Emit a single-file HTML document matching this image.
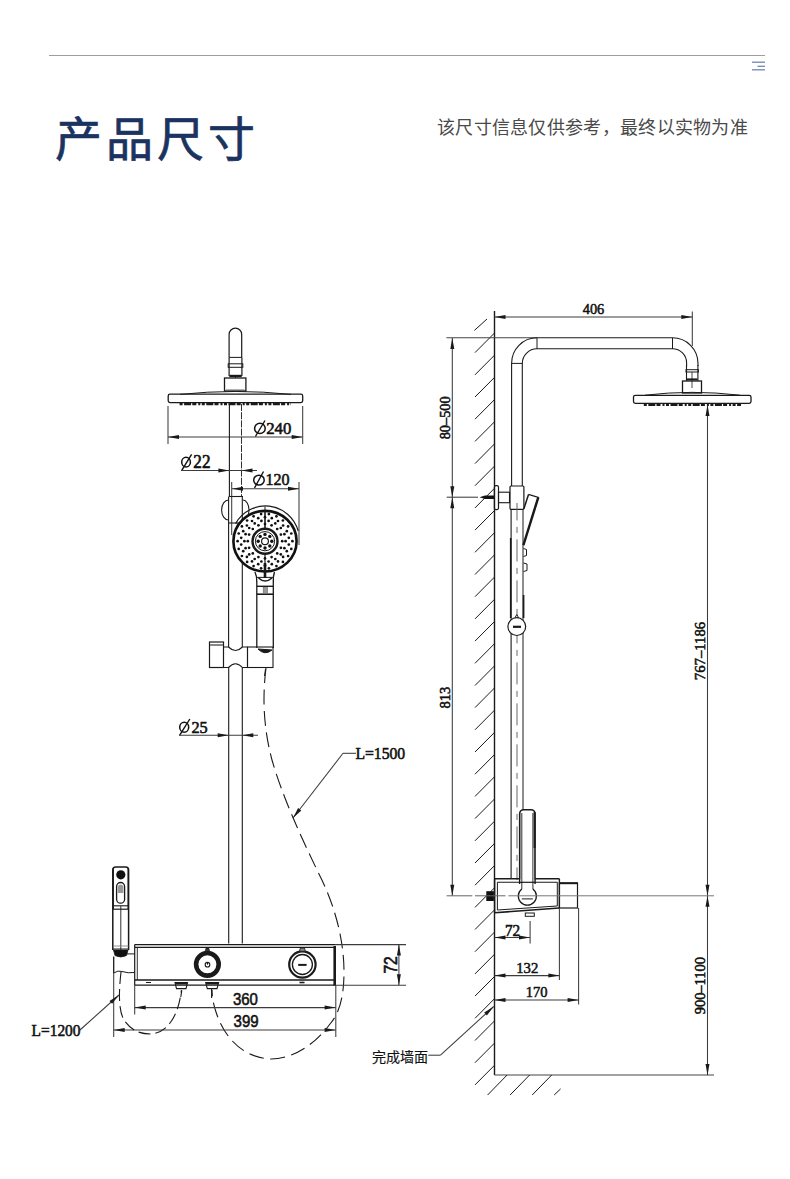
<!DOCTYPE html>
<html lang="zh-CN"><head><meta charset="utf-8"><style>
html,body{margin:0;padding:0;background:#fff;width:790px;height:1179px;overflow:hidden}
.t{position:absolute;font-family:"Liberation Sans",sans-serif;white-space:nowrap}
</style></head><body>
<div style="position:absolute;left:49px;top:54.5px;width:716px;height:1.5px;background:#9d9d9d"></div>
<svg style="position:absolute;left:0;top:0" width="790" height="1179" viewBox="0 0 790 1179">
<line x1="752" y1="62.2" x2="765" y2="62.2" stroke="#7386ad" stroke-width="1.3"/>
<line x1="757.5" y1="66.3" x2="765" y2="66.3" stroke="#7386ad" stroke-width="1.3"/>
<line x1="752" y1="69.8" x2="765" y2="69.8" stroke="#7386ad" stroke-width="1.3"/>
<path d="M229.1 357.4 L229.1 334.5 A6.3 6.3 0 0 1 241.7 334.5 L241.7 357.4" fill="none" stroke="#1a1a1a" stroke-width="1.2" />
<line x1="229.1" y1="357.4" x2="229.1" y2="376.0" stroke="#1a1a1a" stroke-width="1.2" />
<line x1="241.9" y1="357.4" x2="241.9" y2="376.0" stroke="#1a1a1a" stroke-width="1.2" />
<line x1="229.1" y1="357.4" x2="241.9" y2="357.4" stroke="#1a1a1a" stroke-width="1.0" />
<rect x="228.2" y="363.8" width="14.6" height="3.5" rx="0" fill="none" stroke="#1a1a1a" stroke-width="1.0"/>
<line x1="229.3" y1="376.0" x2="241.7" y2="376.0" stroke="#1a1a1a" stroke-width="2.4" />
<line x1="235.5" y1="376.0" x2="235.5" y2="378.0" stroke="#1a1a1a" stroke-width="1.0" />
<rect x="224.5" y="378.0" width="21.4" height="13.0" rx="0" fill="none" stroke="#1a1a1a" stroke-width="1.3"/>
<line x1="226.0" y1="390.3" x2="244.5" y2="390.3" stroke="#666" stroke-width="1.6" />
<path d="M180 394.4 Q235.5 388.5 291 394.4" fill="none" stroke="#1a1a1a" stroke-width="1.0" />
<rect x="168.2" y="394.2" width="134.5" height="8.4" rx="1.8" fill="none" stroke="#1a1a1a" stroke-width="1.3"/>
<line x1="179.6" y1="403.8" x2="291.0" y2="403.8" stroke="#1a1a1a" stroke-width="3.0" stroke-dasharray="3 1.5 7 1.2 4 2 2 1.5"/>
<line x1="168.0" y1="406.0" x2="168.0" y2="444.0" stroke="#3c3c3c" stroke-width="1.05" />
<line x1="302.7" y1="406.0" x2="302.7" y2="444.0" stroke="#3c3c3c" stroke-width="1.05" />
<line x1="168.0" y1="437.0" x2="302.7" y2="437.0" stroke="#3c3c3c" stroke-width="1.05" />
<path d="M168.0 437.0 L179.0 435.0 L179.0 439.0 Z" fill="#1a1a1a"/>
<path d="M302.7 437.0 L291.7 439.0 L291.7 435.0 Z" fill="#1a1a1a"/>
<ellipse cx="259.90" cy="428.40" rx="5.30" ry="5.20" fill="none" stroke="#111" stroke-width="1.5"/>
<line x1="255.4" y1="436.5" x2="265.0" y2="420.5" stroke="#111" stroke-width="1.4" />
<text transform="matrix(0.16761,0,0,0.17463,266.13,433.95)" font-family="Liberation Serif" font-size="100" fill="#111" stroke="#111" stroke-width="3.5">240</text>
<line x1="229.4" y1="404.0" x2="229.4" y2="497.0" stroke="#1a1a1a" stroke-width="1.1" />
<line x1="241.5" y1="404.0" x2="241.5" y2="497.0" stroke="#1a1a1a" stroke-width="0.9" stroke-dasharray="7 1.2"/>
<ellipse cx="186.05" cy="462.15" rx="4.35" ry="4.85" fill="none" stroke="#111" stroke-width="1.5"/>
<line x1="181.6" y1="470.6" x2="191.6" y2="454.4" stroke="#111" stroke-width="1.4" />
<text transform="matrix(0.17222,0,0,0.18000,193.31,468.00)" font-family="Liberation Serif" font-size="100" fill="#111" stroke="#111" stroke-width="3.5">22</text>
<line x1="181.0" y1="470.5" x2="257.0" y2="470.5" stroke="#3c3c3c" stroke-width="1.05" />
<path d="M229.4 470.5 L218.4 472.5 L218.4 468.5 Z" fill="#1a1a1a"/>
<path d="M241.5 470.5 L252.5 468.5 L252.5 472.5 Z" fill="#1a1a1a"/>
<ellipse cx="258.95" cy="480.15" rx="5.25" ry="4.95" fill="none" stroke="#111" stroke-width="1.5"/>
<line x1="254.5" y1="488.0" x2="263.5" y2="471.5" stroke="#111" stroke-width="1.4" />
<text transform="matrix(0.16058,0,0,0.17353,265.55,485.45)" font-family="Liberation Serif" font-size="100" fill="#111" stroke="#111" stroke-width="3.5">120</text>
<line x1="232.0" y1="488.7" x2="299.0" y2="488.7" stroke="#3c3c3c" stroke-width="1.05" />
<path d="M232.0 488.7 L243.0 486.7 L243.0 490.7 Z" fill="#1a1a1a"/>
<path d="M299.0 488.7 L288.0 490.7 L288.0 486.7 Z" fill="#1a1a1a"/>
<line x1="231.7" y1="482.0" x2="231.7" y2="535.0" stroke="#3c3c3c" stroke-width="1.05" />
<line x1="299.0" y1="482.0" x2="299.0" y2="545.0" stroke="#3c3c3c" stroke-width="1.05" />
<line x1="228.6" y1="497.0" x2="228.6" y2="647.0" stroke="#1a1a1a" stroke-width="1.1" />
<line x1="242.3" y1="497.0" x2="242.3" y2="647.0" stroke="#1a1a1a" stroke-width="1.1" />
<path d="M228.6 500 A7 10 0 0 0 228.6 520" fill="none" stroke="#1a1a1a" stroke-width="1.1" />
<path d="M243 500 A6 10 0 0 1 243 520" fill="none" stroke="#1a1a1a" stroke-width="1.1" />
<line x1="228.6" y1="496.5" x2="243.0" y2="496.5" stroke="#1a1a1a" stroke-width="1.1" />
<line x1="228.6" y1="523.0" x2="243.0" y2="523.0" stroke="#1a1a1a" stroke-width="1.1" />
<path d="M235.6 523.6 A34 34 0 0 1 298.2 531" fill="none" stroke="#1a1a1a" stroke-width="1.2" />
<line x1="265.0" y1="506.5" x2="265.0" y2="510.0" stroke="#1a1a1a" stroke-width="1.0" />
<ellipse cx="265" cy="541.2" rx="31.6" ry="30.3" fill="#fff" stroke="#111" stroke-width="2.6"/>
<line x1="265.0" y1="510.0" x2="265.0" y2="528.0" stroke="#1a1a1a" stroke-width="1.6" />
<line x1="265.0" y1="554.0" x2="265.0" y2="566.0" stroke="#1a1a1a" stroke-width="1.2" />
<line x1="265.0" y1="563.0" x2="265.0" y2="578.0" stroke="#1a1a1a" stroke-width="2.6" />
<circle cx="265.0" cy="541.2" r="12.5" fill="none" stroke="#1a1a1a" stroke-width="2.4"/>
<circle cx="265.0" cy="541.2" r="9.6" fill="none" stroke="#1a1a1a" stroke-width="1.0"/>
<circle cx="265.0" cy="541.2" r="3.4" fill="none" stroke="#1a1a1a" stroke-width="1.2"/>
<circle cx="271.8" cy="541.2" r="1.7" fill="#111"/>
<circle cx="269.8" cy="546.0" r="1.7" fill="#111"/>
<circle cx="265.0" cy="548.0" r="1.7" fill="#111"/>
<circle cx="260.2" cy="546.0" r="1.7" fill="#111"/>
<circle cx="258.2" cy="541.2" r="1.7" fill="#111"/>
<circle cx="260.2" cy="536.4" r="1.7" fill="#111"/>
<circle cx="265.0" cy="534.4" r="1.7" fill="#111"/>
<circle cx="269.8" cy="536.4" r="1.7" fill="#111"/>
<circle cx="268.9" cy="514.1" r="1.35" fill="#111"/>
<circle cx="276.4" cy="516.3" r="1.35" fill="#111"/>
<circle cx="282.9" cy="520.5" r="1.35" fill="#111"/>
<circle cx="288.1" cy="526.4" r="1.35" fill="#111"/>
<circle cx="291.3" cy="533.5" r="1.35" fill="#111"/>
<circle cx="292.4" cy="541.2" r="1.35" fill="#111"/>
<circle cx="291.3" cy="548.9" r="1.35" fill="#111"/>
<circle cx="288.1" cy="556.0" r="1.35" fill="#111"/>
<circle cx="282.9" cy="561.9" r="1.35" fill="#111"/>
<circle cx="276.4" cy="566.1" r="1.35" fill="#111"/>
<circle cx="268.9" cy="568.3" r="1.35" fill="#111"/>
<circle cx="261.1" cy="568.3" r="1.35" fill="#111"/>
<circle cx="253.6" cy="566.1" r="1.35" fill="#111"/>
<circle cx="247.1" cy="561.9" r="1.35" fill="#111"/>
<circle cx="241.9" cy="556.0" r="1.35" fill="#111"/>
<circle cx="238.7" cy="548.9" r="1.35" fill="#111"/>
<circle cx="237.6" cy="541.2" r="1.35" fill="#111"/>
<circle cx="238.7" cy="533.5" r="1.35" fill="#111"/>
<circle cx="241.9" cy="526.4" r="1.35" fill="#111"/>
<circle cx="247.1" cy="520.5" r="1.35" fill="#111"/>
<circle cx="253.6" cy="516.3" r="1.35" fill="#111"/>
<circle cx="261.1" cy="514.1" r="1.35" fill="#111"/>
<circle cx="265.0" cy="517.2" r="1.35" fill="#111"/>
<circle cx="271.8" cy="518.2" r="1.35" fill="#111"/>
<circle cx="278.0" cy="521.0" r="1.35" fill="#111"/>
<circle cx="283.1" cy="525.5" r="1.35" fill="#111"/>
<circle cx="286.8" cy="531.2" r="1.35" fill="#111"/>
<circle cx="288.8" cy="537.8" r="1.35" fill="#111"/>
<circle cx="288.8" cy="544.6" r="1.35" fill="#111"/>
<circle cx="286.8" cy="551.2" r="1.35" fill="#111"/>
<circle cx="283.1" cy="556.9" r="1.35" fill="#111"/>
<circle cx="278.0" cy="561.4" r="1.35" fill="#111"/>
<circle cx="271.8" cy="564.2" r="1.35" fill="#111"/>
<circle cx="265.0" cy="565.2" r="1.35" fill="#111"/>
<circle cx="258.2" cy="564.2" r="1.35" fill="#111"/>
<circle cx="252.0" cy="561.4" r="1.35" fill="#111"/>
<circle cx="246.9" cy="556.9" r="1.35" fill="#111"/>
<circle cx="243.2" cy="551.2" r="1.35" fill="#111"/>
<circle cx="241.2" cy="544.6" r="1.35" fill="#111"/>
<circle cx="241.2" cy="537.8" r="1.35" fill="#111"/>
<circle cx="243.2" cy="531.2" r="1.35" fill="#111"/>
<circle cx="246.9" cy="525.5" r="1.35" fill="#111"/>
<circle cx="252.0" cy="521.0" r="1.35" fill="#111"/>
<circle cx="258.2" cy="518.2" r="1.35" fill="#111"/>
<circle cx="268.6" cy="520.9" r="1.35" fill="#111"/>
<circle cx="275.3" cy="523.4" r="1.35" fill="#111"/>
<circle cx="280.8" cy="528.0" r="1.35" fill="#111"/>
<circle cx="284.4" cy="534.2" r="1.35" fill="#111"/>
<circle cx="285.6" cy="541.2" r="1.35" fill="#111"/>
<circle cx="284.4" cy="548.2" r="1.35" fill="#111"/>
<circle cx="280.8" cy="554.4" r="1.35" fill="#111"/>
<circle cx="275.3" cy="559.0" r="1.35" fill="#111"/>
<circle cx="268.6" cy="561.5" r="1.35" fill="#111"/>
<circle cx="261.4" cy="561.5" r="1.35" fill="#111"/>
<circle cx="254.7" cy="559.0" r="1.35" fill="#111"/>
<circle cx="249.2" cy="554.4" r="1.35" fill="#111"/>
<circle cx="245.6" cy="548.2" r="1.35" fill="#111"/>
<circle cx="244.4" cy="541.2" r="1.35" fill="#111"/>
<circle cx="245.6" cy="534.2" r="1.35" fill="#111"/>
<circle cx="249.2" cy="528.0" r="1.35" fill="#111"/>
<circle cx="254.7" cy="523.4" r="1.35" fill="#111"/>
<circle cx="261.4" cy="520.9" r="1.35" fill="#111"/>
<circle cx="265.0" cy="524.0" r="1.35" fill="#111"/>
<circle cx="271.6" cy="525.3" r="1.35" fill="#111"/>
<circle cx="277.2" cy="529.0" r="1.35" fill="#111"/>
<circle cx="280.9" cy="534.6" r="1.35" fill="#111"/>
<circle cx="282.2" cy="541.2" r="1.35" fill="#111"/>
<circle cx="280.9" cy="547.8" r="1.35" fill="#111"/>
<circle cx="277.2" cy="553.4" r="1.35" fill="#111"/>
<circle cx="271.6" cy="557.1" r="1.35" fill="#111"/>
<circle cx="265.0" cy="558.4" r="1.35" fill="#111"/>
<circle cx="258.4" cy="557.1" r="1.35" fill="#111"/>
<circle cx="252.8" cy="553.4" r="1.35" fill="#111"/>
<circle cx="249.1" cy="547.8" r="1.35" fill="#111"/>
<circle cx="247.8" cy="541.2" r="1.35" fill="#111"/>
<circle cx="249.1" cy="534.6" r="1.35" fill="#111"/>
<circle cx="252.8" cy="529.0" r="1.35" fill="#111"/>
<circle cx="258.4" cy="525.3" r="1.35" fill="#111"/>
<path d="M254.9 572 Q257 576 256.8 582" fill="none" stroke="#1a1a1a" stroke-width="1.4" />
<path d="M274.5 572 Q273 576 273.3 582" fill="none" stroke="#1a1a1a" stroke-width="1.4" />
<line x1="257.0" y1="577.4" x2="273.3" y2="577.4" stroke="#1a1a1a" stroke-width="1.0" />
<path d="M258.5 578 Q265 584 272 578" fill="none" stroke="#1a1a1a" stroke-width="1.6" />
<line x1="256.8" y1="582.0" x2="256.8" y2="648.0" stroke="#1a1a1a" stroke-width="1.3" />
<line x1="273.3" y1="582.0" x2="273.3" y2="648.0" stroke="#1a1a1a" stroke-width="1.3" />
<line x1="256.8" y1="586.3" x2="273.3" y2="586.3" stroke="#1a1a1a" stroke-width="1.4" />
<line x1="256.8" y1="594.2" x2="273.3" y2="594.2" stroke="#1a1a1a" stroke-width="1.6" />
<rect x="263.2" y="587.5" width="4.3" height="6.0" rx="0" fill="#9a9a9a" stroke="#666" stroke-width="0.6"/>
<rect x="209.5" y="642.0" width="14.0" height="25.5" rx="0" fill="none" stroke="#1a1a1a" stroke-width="1.2"/>
<line x1="210.0" y1="645.0" x2="223.0" y2="645.0" stroke="#888" stroke-width="2.0" />
<path d="M223.5 647 L228.5 647 Q235.5 654 242.4 647 L247.5 647" fill="none" stroke="#1a1a1a" stroke-width="1.1" />
<path d="M223.5 667.5 L228.5 667.5 Q235.5 660 242.4 667.5 L247.5 667.5" fill="none" stroke="#1a1a1a" stroke-width="1.1" />
<line x1="247.5" y1="647.0" x2="247.5" y2="667.5" stroke="#1a1a1a" stroke-width="1.1" />
<rect x="247.5" y="647.0" width="25.5" height="20.5" rx="0" fill="none" stroke="#1a1a1a" stroke-width="1.1"/>
<path d="M258 649 Q265 656 272 650 Z" fill="#1a1a1a" stroke="#1a1a1a" stroke-width="1.0" />
<line x1="265.5" y1="669.0" x2="264.5" y2="676.0" stroke="#1a1a1a" stroke-width="1.0" />
<line x1="228.7" y1="667.5" x2="228.7" y2="943.5" stroke="#1a1a1a" stroke-width="1.1" />
<line x1="242.3" y1="667.5" x2="242.3" y2="943.5" stroke="#1a1a1a" stroke-width="1.1" />
<ellipse cx="184.20" cy="727.20" rx="4.50" ry="5.00" fill="none" stroke="#111" stroke-width="1.5"/>
<line x1="179.6" y1="735.4" x2="189.8" y2="719.0" stroke="#111" stroke-width="1.4" />
<text transform="matrix(0.16304,0,0,0.17727,191.45,732.72)" font-family="Liberation Serif" font-size="100" fill="#111" stroke="#111" stroke-width="3.5">25</text>
<line x1="179.0" y1="735.3" x2="258.0" y2="735.3" stroke="#3c3c3c" stroke-width="1.05" />
<path d="M228.7 735.3 L217.7 737.3 L217.7 733.3 Z" fill="#1a1a1a"/>
<path d="M242.3 735.3 L253.3 733.3 L253.3 737.3 Z" fill="#1a1a1a"/>
<text transform="matrix(0.15691,0,0,0.16912,355.43,758.66)" font-family="Liberation Serif" font-size="100" fill="#111" stroke="#111" stroke-width="3.5">L=1500</text>
<line x1="343.0" y1="753.3" x2="356.0" y2="753.3" stroke="#3c3c3c" stroke-width="1.05" />
<line x1="343.0" y1="753.3" x2="293.0" y2="818.0" stroke="#3c3c3c" stroke-width="1.05" />
<path d="M293.0 818.0 L298.1 808.1 L301.3 810.5 Z" fill="#1a1a1a"/>
<path d="M266 668 C262 700 264 730 272 760 C282 795 300 835 318 872 C335 905 344 940 344 972 C344 1000 338 1015 330 1024 C312 1048 290 1059 271 1059 C245 1058 225 1040 216 1012 C213 1003 212 996 212 990" fill="none" stroke="#1a1a1a" stroke-width="1.1" stroke-dasharray="15 6.5"/>
<line x1="134.7" y1="944.6" x2="335.8" y2="944.6" stroke="#1a1a1a" stroke-width="1.4" />
<line x1="134.7" y1="947.3" x2="334.0" y2="947.3" stroke="#1a1a1a" stroke-width="1.2" />
<line x1="134.7" y1="979.9" x2="334.0" y2="979.9" stroke="#1a1a1a" stroke-width="1.5" />
<line x1="134.7" y1="985.2" x2="335.8" y2="985.2" stroke="#1a1a1a" stroke-width="1.3" />
<line x1="134.7" y1="944.6" x2="134.7" y2="985.2" stroke="#1a1a1a" stroke-width="1.2" />
<line x1="137.3" y1="947.3" x2="137.3" y2="979.9" stroke="#1a1a1a" stroke-width="0.9" />
<line x1="334.7" y1="946.0" x2="334.7" y2="985.5" stroke="#1a1a1a" stroke-width="2.6" />
<circle cx="207.4" cy="964.3" r="11.3" fill="#fff" stroke="#1a1a1a" stroke-width="4.6"/>
<circle cx="207.5" cy="964.7" r="2.3" fill="none" stroke="#1a1a1a" stroke-width="1.1"/>
<line x1="207.5" y1="962.0" x2="207.5" y2="964.7" stroke="#1a1a1a" stroke-width="1.0" />
<path d="M205.3 950.6 L206.2 948 L208.6 948 L209.5 950.6 Z" fill="#333" stroke="#1a1a1a" stroke-width="0.8" />
<circle cx="302.4" cy="964.5" r="13.2" fill="#fff" stroke="#1a1a1a" stroke-width="2.2"/>
<circle cx="302.4" cy="964.5" r="10.0" fill="none" stroke="#1a1a1a" stroke-width="1.3"/>
<line x1="298.2" y1="964.9" x2="306.6" y2="964.9" stroke="#1a1a1a" stroke-width="2.0" />
<path d="M299.5 951.3 L300.3 948 L304.5 948 L305.3 951.3 Z" fill="#888" stroke="#1a1a1a" stroke-width="0.8" />
<path d="M175 982.6 L187.5 982.6 L186 988.6 L176.5 988.6 Z" fill="none" stroke="#1a1a1a" stroke-width="1.1" />
<line x1="175.5" y1="983.6" x2="187.0" y2="983.6" stroke="#1a1a1a" stroke-width="1.8" />
<path d="M205.7 982.6 L218.6 982.6 L217 988.6 L207.3 988.6 Z" fill="none" stroke="#1a1a1a" stroke-width="1.1" />
<line x1="206.2" y1="983.6" x2="218.0" y2="983.6" stroke="#1a1a1a" stroke-width="1.8" />
<line x1="146.0" y1="982.5" x2="151.0" y2="982.5" stroke="#1a1a1a" stroke-width="1.0" />
<line x1="299.5" y1="982.5" x2="304.5" y2="982.5" stroke="#1a1a1a" stroke-width="1.6" />
<line x1="211.6" y1="988.6" x2="211.6" y2="998.0" stroke="#1a1a1a" stroke-width="1.1" />
<line x1="181.8" y1="990.5" x2="180.8" y2="997.0" stroke="#1a1a1a" stroke-width="1.1" />
<line x1="335.8" y1="944.6" x2="406.0" y2="944.6" stroke="#3c3c3c" stroke-width="1.05" />
<line x1="335.8" y1="985.2" x2="406.0" y2="985.2" stroke="#3c3c3c" stroke-width="1.05" />
<line x1="398.9" y1="944.6" x2="398.9" y2="985.2" stroke="#3c3c3c" stroke-width="1.05" />
<path d="M398.9 944.6 L400.9 955.6 L396.9 955.6 Z" fill="#1a1a1a"/>
<path d="M398.9 985.2 L396.9 974.2 L400.9 974.2 Z" fill="#1a1a1a"/>
<text transform="matrix(0,-0.15644,0.17429,0,396.70,973.58)" font-family="Liberation Sans" font-size="100" fill="#111" stroke="#111" stroke-width="3.5">72</text>
<line x1="335.8" y1="985.2" x2="335.8" y2="1037.0" stroke="#3c3c3c" stroke-width="1.05" />
<line x1="134.7" y1="985.2" x2="134.7" y2="1014.6" stroke="#3c3c3c" stroke-width="1.05" />
<line x1="113.7" y1="973.0" x2="113.7" y2="1037.0" stroke="#3c3c3c" stroke-width="1.05" />
<line x1="134.7" y1="1007.6" x2="335.6" y2="1007.6" stroke="#3c3c3c" stroke-width="1.05" />
<path d="M134.7 1007.6 L145.7 1005.6 L145.7 1009.6 Z" fill="#1a1a1a"/>
<path d="M335.6 1007.6 L324.6 1009.6 L324.6 1005.6 Z" fill="#1a1a1a"/>
<text transform="matrix(0.14969,0,0,0.16056,232.90,1005.24)" font-family="Liberation Sans" font-size="100" fill="#111" stroke="#111" stroke-width="3.5">360</text>
<line x1="113.7" y1="1029.9" x2="335.8" y2="1029.9" stroke="#3c3c3c" stroke-width="1.05" />
<path d="M113.7 1029.9 L124.7 1027.9 L124.7 1031.9 Z" fill="#1a1a1a"/>
<path d="M335.6 1029.9 L324.6 1031.9 L324.6 1027.9 Z" fill="#1a1a1a"/>
<text transform="matrix(0.15000,0,0,0.16479,233.60,1027.04)" font-family="Liberation Sans" font-size="100" fill="#111" stroke="#111" stroke-width="3.5">399</text>
<path d="M112.8 950 L112.8 870 A3 3 0 0 1 115.8 867 L125.6 867 A3 3 0 0 1 128.6 870 L128.6 950" fill="none" stroke="#1a1a1a" stroke-width="1.5" />
<line x1="113.3" y1="868.0" x2="113.3" y2="909.0" stroke="#1a1a1a" stroke-width="1.2" />
<line x1="128.1" y1="868.0" x2="128.1" y2="909.0" stroke="#1a1a1a" stroke-width="1.2" />
<circle cx="120.8" cy="874.8" r="4.6" fill="#111" stroke="#1a1a1a" stroke-width="0"/>
<rect x="116.6" y="882.5" width="8.0" height="20.7" rx="4" fill="none" stroke="#1a1a1a" stroke-width="1.3"/>
<path d="M117.8 890 L117.8 886.5 A3 3 0 0 1 123.4 886.5 L123.4 893 L117.8 893 Z" fill="#999" stroke="none" stroke-width="0" />
<line x1="112.8" y1="905.8" x2="128.6" y2="905.8" stroke="#1a1a1a" stroke-width="1.1" />
<line x1="112.8" y1="909.2" x2="128.6" y2="909.2" stroke="#1a1a1a" stroke-width="1.2" />
<line x1="120.8" y1="905.8" x2="120.8" y2="950.0" stroke="#1a1a1a" stroke-width="0.9" />
<line x1="113.0" y1="946.0" x2="128.4" y2="946.0" stroke="#777" stroke-width="0.8" />
<line x1="113.0" y1="949.0" x2="128.4" y2="949.0" stroke="#1a1a1a" stroke-width="1.0" />
<path d="M113.5 950 L128 950 L126.5 955.5 Q120.8 958.5 115 955.5 Z" fill="#111" stroke="#1a1a1a" stroke-width="0.8" />
<line x1="127.0" y1="953.9" x2="134.7" y2="953.9" stroke="#1a1a1a" stroke-width="1.0" />
<line x1="113.7" y1="956.4" x2="113.7" y2="973.0" stroke="#1a1a1a" stroke-width="1.3" />
<path d="M113.7 973 Q118 970 122 971.5 Q128 973.5 134.7 972.5" fill="none" stroke="#1a1a1a" stroke-width="1.0" />
<path d="M121 972 C119 990 118 1010 124 1020 C132 1032 142 1034 151 1034 C165 1033 178 1020 181.4 990" fill="none" stroke="#1a1a1a" stroke-width="1.1" stroke-dasharray="12 5"/>
<text transform="matrix(0.15434,0,0,0.15735,31.54,1036.19)" font-family="Liberation Serif" font-size="100" fill="#111" stroke="#111" stroke-width="3.5">L=1200</text>
<line x1="80.0" y1="1030.0" x2="119.0" y2="995.0" stroke="#3c3c3c" stroke-width="1.05" />
<path d="M119.0 995.0 L112.1 1003.8 L109.5 1000.9 Z" fill="#1a1a1a"/>
<line x1="494.5" y1="311.0" x2="494.5" y2="1075.0" stroke="#1a1a1a" stroke-width="1.4" />
<line x1="474.4" y1="330.4" x2="487.0" y2="319.0" stroke="#1a1a1a" stroke-width="1.0" />
<line x1="475.0" y1="352.6" x2="494.5" y2="333.0" stroke="#1a1a1a" stroke-width="1.0" />
<line x1="475.0" y1="374.8" x2="494.5" y2="355.2" stroke="#1a1a1a" stroke-width="1.0" />
<line x1="475.0" y1="397.0" x2="494.5" y2="377.4" stroke="#1a1a1a" stroke-width="1.0" />
<line x1="475.0" y1="419.2" x2="494.5" y2="399.6" stroke="#1a1a1a" stroke-width="1.0" />
<line x1="475.0" y1="441.4" x2="494.5" y2="421.8" stroke="#1a1a1a" stroke-width="1.0" />
<line x1="475.0" y1="463.6" x2="494.5" y2="443.9" stroke="#1a1a1a" stroke-width="1.0" />
<line x1="475.0" y1="485.7" x2="494.5" y2="466.1" stroke="#1a1a1a" stroke-width="1.0" />
<line x1="475.0" y1="507.9" x2="494.5" y2="488.3" stroke="#1a1a1a" stroke-width="1.0" />
<line x1="475.0" y1="530.1" x2="494.5" y2="510.5" stroke="#1a1a1a" stroke-width="1.0" />
<line x1="475.0" y1="552.3" x2="494.5" y2="532.7" stroke="#1a1a1a" stroke-width="1.0" />
<line x1="475.0" y1="574.5" x2="494.5" y2="554.9" stroke="#1a1a1a" stroke-width="1.0" />
<line x1="475.0" y1="596.7" x2="494.5" y2="577.1" stroke="#1a1a1a" stroke-width="1.0" />
<line x1="475.0" y1="618.9" x2="494.5" y2="599.3" stroke="#1a1a1a" stroke-width="1.0" />
<line x1="475.0" y1="641.1" x2="494.5" y2="621.5" stroke="#1a1a1a" stroke-width="1.0" />
<line x1="475.0" y1="663.3" x2="494.5" y2="643.7" stroke="#1a1a1a" stroke-width="1.0" />
<line x1="475.0" y1="685.5" x2="494.5" y2="665.9" stroke="#1a1a1a" stroke-width="1.0" />
<line x1="475.0" y1="707.6" x2="494.5" y2="688.0" stroke="#1a1a1a" stroke-width="1.0" />
<line x1="475.0" y1="729.8" x2="494.5" y2="710.2" stroke="#1a1a1a" stroke-width="1.0" />
<line x1="475.0" y1="752.0" x2="494.5" y2="732.4" stroke="#1a1a1a" stroke-width="1.0" />
<line x1="475.0" y1="774.2" x2="494.5" y2="754.6" stroke="#1a1a1a" stroke-width="1.0" />
<line x1="475.0" y1="796.4" x2="494.5" y2="776.8" stroke="#1a1a1a" stroke-width="1.0" />
<line x1="475.0" y1="818.6" x2="494.5" y2="799.0" stroke="#1a1a1a" stroke-width="1.0" />
<line x1="475.0" y1="840.8" x2="494.5" y2="821.2" stroke="#1a1a1a" stroke-width="1.0" />
<line x1="475.0" y1="863.0" x2="494.5" y2="843.4" stroke="#1a1a1a" stroke-width="1.0" />
<line x1="475.0" y1="885.2" x2="494.5" y2="865.6" stroke="#1a1a1a" stroke-width="1.0" />
<line x1="475.0" y1="907.4" x2="494.5" y2="887.8" stroke="#1a1a1a" stroke-width="1.0" />
<line x1="475.0" y1="929.5" x2="494.5" y2="909.9" stroke="#1a1a1a" stroke-width="1.0" />
<line x1="475.0" y1="951.7" x2="494.5" y2="932.1" stroke="#1a1a1a" stroke-width="1.0" />
<line x1="475.0" y1="973.9" x2="494.5" y2="954.3" stroke="#1a1a1a" stroke-width="1.0" />
<line x1="475.0" y1="996.1" x2="494.5" y2="976.5" stroke="#1a1a1a" stroke-width="1.0" />
<line x1="475.0" y1="1018.3" x2="494.5" y2="998.7" stroke="#1a1a1a" stroke-width="1.0" />
<line x1="475.0" y1="1040.5" x2="494.5" y2="1020.9" stroke="#1a1a1a" stroke-width="1.0" />
<line x1="475.0" y1="1062.7" x2="494.5" y2="1043.1" stroke="#1a1a1a" stroke-width="1.0" />
<line x1="475.0" y1="1084.9" x2="494.5" y2="1065.3" stroke="#1a1a1a" stroke-width="1.0" />
<line x1="494.5" y1="1075.0" x2="714.0" y2="1075.0" stroke="#444" stroke-width="1.1" />
<line x1="487.6" y1="1095.0" x2="507.1" y2="1075.0" stroke="#1a1a1a" stroke-width="1.0" />
<line x1="510.1" y1="1095.0" x2="529.6" y2="1075.0" stroke="#1a1a1a" stroke-width="1.0" />
<line x1="532.2" y1="1095.0" x2="551.7" y2="1075.0" stroke="#1a1a1a" stroke-width="1.0" />
<line x1="554.2" y1="1095.0" x2="560.6" y2="1088.9" stroke="#1a1a1a" stroke-width="1.0" />
<line x1="494.5" y1="317.0" x2="692.3" y2="317.0" stroke="#3c3c3c" stroke-width="1.05" />
<path d="M494.5 317.0 L505.5 315.0 L505.5 319.0 Z" fill="#1a1a1a"/>
<path d="M692.3 317.0 L681.3 319.0 L681.3 315.0 Z" fill="#1a1a1a"/>
<line x1="692.3" y1="311.6" x2="692.3" y2="346.0" stroke="#3c3c3c" stroke-width="1.05" />
<text transform="matrix(0.14414,0,0,0.15075,582.71,314.30)" font-family="Liberation Serif" font-size="100" fill="#111" stroke="#111" stroke-width="3.5">406</text>
<line x1="446.4" y1="337.8" x2="537.0" y2="337.8" stroke="#444" stroke-width="1.05" />
<line x1="452.3" y1="338.0" x2="452.3" y2="895.7" stroke="#3c3c3c" stroke-width="1.05" />
<path d="M452.3 338.0 L454.3 349.0 L450.3 349.0 Z" fill="#1a1a1a"/>
<path d="M452.3 497.2 L450.3 486.2 L454.3 486.2 Z" fill="#1a1a1a"/>
<path d="M452.3 497.2 L454.3 508.2 L450.3 508.2 Z" fill="#1a1a1a"/>
<path d="M452.3 895.7 L450.3 884.7 L454.3 884.7 Z" fill="#1a1a1a"/>
<text transform="matrix(0,-0.14349,0.15224,0,449.90,439.37)" font-family="Liberation Serif" font-size="100" fill="#111" stroke="#111" stroke-width="3.5">80–500</text>
<text transform="matrix(0,-0.14507,0.15441,0,449.99,708.38)" font-family="Liberation Serif" font-size="100" fill="#111" stroke="#111" stroke-width="3.5">813</text>
<line x1="446.7" y1="497.2" x2="478.0" y2="497.2" stroke="#3c3c3c" stroke-width="1.05" />
<path d="M479.5 497.3 L485 495.6 L494 495.6 L494 499 L485 499 Z" fill="#111" stroke="none" stroke-width="0" />
<path d="M511.6 486 L511.6 363.4 A25.4 25.4 0 0 1 537 337.8 L672.5 337.8 A25.5 25.5 0 0 1 698 363.3 L698 366" fill="none" stroke="#1a1a1a" stroke-width="1.1" />
<path d="M522.3 486 L522.3 363.4 A14.7 14.7 0 0 1 537 348.8 L672.5 348.8 A14.1 14.1 0 0 1 686.6 363 L686.6 366" fill="none" stroke="#1a1a1a" stroke-width="1.1" />
<line x1="511.6" y1="363.4" x2="522.3" y2="363.4" stroke="#1a1a1a" stroke-width="1.0" />
<line x1="537.0" y1="338.0" x2="537.0" y2="349.0" stroke="#1a1a1a" stroke-width="1.0" />
<line x1="672.5" y1="338.0" x2="672.5" y2="349.0" stroke="#1a1a1a" stroke-width="1.0" />
<line x1="686.5" y1="365.0" x2="686.5" y2="381.0" stroke="#1a1a1a" stroke-width="1.1" />
<line x1="697.9" y1="365.0" x2="697.9" y2="381.0" stroke="#1a1a1a" stroke-width="1.1" />
<rect x="686.0" y="369.7" width="12.4" height="2.3" rx="0" fill="none" stroke="#1a1a1a" stroke-width="1.0"/>
<line x1="687.0" y1="379.4" x2="697.5" y2="379.4" stroke="#1a1a1a" stroke-width="2.0" />
<line x1="692.0" y1="372.0" x2="692.0" y2="388.0" stroke="#1a1a1a" stroke-width="0.8" />
<rect x="682.5" y="381.0" width="19.0" height="12.0" rx="0" fill="none" stroke="#1a1a1a" stroke-width="1.3"/>
<path d="M645 395.2 Q692 389.5 740 395.2" fill="none" stroke="#1a1a1a" stroke-width="1.0" />
<rect x="633.5" y="395.3" width="117.5" height="8.0" rx="1.8" fill="none" stroke="#1a1a1a" stroke-width="1.3"/>
<line x1="643.8" y1="404.5" x2="741.0" y2="404.5" stroke="#1a1a1a" stroke-width="3.0" stroke-dasharray="3 1.5 7 1.2 4 2 2 1.5"/>
<line x1="707.5" y1="405.0" x2="707.5" y2="1075.0" stroke="#3c3c3c" stroke-width="1.05" />
<path d="M707.5 405.0 L709.5 416.0 L705.5 416.0 Z" fill="#1a1a1a"/>
<path d="M707.5 895.7 L705.5 884.7 L709.5 884.7 Z" fill="#1a1a1a"/>
<path d="M707.5 895.7 L709.5 906.7 L705.5 906.7 Z" fill="#1a1a1a"/>
<path d="M707.5 1075.0 L705.5 1064.0 L709.5 1064.0 Z" fill="#1a1a1a"/>
<text transform="matrix(0,-0.14767,0.15588,0,705.09,680.23)" font-family="Liberation Serif" font-size="100" fill="#111" stroke="#111" stroke-width="3.5">767–1186</text>
<text transform="matrix(0,-0.14473,0.15441,0,705.39,1014.33)" font-family="Liberation Serif" font-size="100" fill="#111" stroke="#111" stroke-width="3.5">900–1100</text>
<rect x="494.4" y="485.7" width="4.1" height="23.9" rx="1.5" fill="none" stroke="#1a1a1a" stroke-width="1.2"/>
<rect x="498.5" y="492.2" width="11.0" height="10.5" rx="0" fill="none" stroke="#1a1a1a" stroke-width="1.1"/>
<rect x="510.0" y="486.0" width="13.9" height="23.3" rx="1" fill="none" stroke="#1a1a1a" stroke-width="1.2"/>
<path d="M528.5 494.4 L538.3 497.3 L523.4 545.1" fill="none" stroke="#1a1a1a" stroke-width="1.2" />
<path d="M538.3 497.3 L523.4 545.1" fill="none" stroke="#1a1a1a" stroke-width="2.4" />
<path d="M528.5 494.4 L523.9 508.8" fill="none" stroke="#1a1a1a" stroke-width="1.5" />
<line x1="511.1" y1="509.3" x2="511.1" y2="878.0" stroke="#1a1a1a" stroke-width="1.1" />
<line x1="523.0" y1="509.3" x2="523.0" y2="878.0" stroke="#1a1a1a" stroke-width="1.0" />
<line x1="510.7" y1="538.0" x2="510.7" y2="618.0" stroke="#1a1a1a" stroke-width="1.6" />
<line x1="523.6" y1="595.0" x2="523.6" y2="618.0" stroke="#1a1a1a" stroke-width="1.6" />
<line x1="517.0" y1="503.0" x2="517.0" y2="880.0" stroke="#666" stroke-width="1.0" stroke-dasharray="22 6.5 6 6.5" stroke-dashoffset="4.6"/>
<path d="M523.5 548.5 L526.5 549.5 L526.5 555.5 L523.5 556.5" fill="none" stroke="#1a1a1a" stroke-width="1.0" />
<path d="M523.5 563 L527 564 L527 570.5 L523.5 571.5" fill="none" stroke="#1a1a1a" stroke-width="1.0" />
<circle cx="516.8" cy="626.6" r="8.9" fill="#fff" stroke="#1a1a1a" stroke-width="1.2"/>
<line x1="513.0" y1="626.8" x2="521.0" y2="626.8" stroke="#1a1a1a" stroke-width="2.2" />
<path d="M515 617.7 L516.8 614.5 L518.6 617.7" fill="none" stroke="#1a1a1a" stroke-width="1.0" />
<line x1="494.6" y1="878.7" x2="559.4" y2="878.7" stroke="#1a1a1a" stroke-width="1.4" />
<line x1="497.4" y1="882.2" x2="557.3" y2="882.2" stroke="#1a1a1a" stroke-width="1.1" />
<line x1="494.6" y1="878.7" x2="494.6" y2="912.8" stroke="#1a1a1a" stroke-width="1.4" />
<line x1="559.4" y1="878.7" x2="559.4" y2="908.0" stroke="#1a1a1a" stroke-width="1.4" />
<line x1="494.6" y1="912.8" x2="559.4" y2="908.0" stroke="#1a1a1a" stroke-width="1.6" />
<line x1="497.4" y1="882.2" x2="497.4" y2="910.0" stroke="#1a1a1a" stroke-width="1.0" />
<line x1="557.3" y1="882.2" x2="557.3" y2="906.0" stroke="#1a1a1a" stroke-width="1.0" />
<line x1="497.4" y1="910.0" x2="557.3" y2="906.0" stroke="#1a1a1a" stroke-width="1.0" />
<rect x="559.4" y="882.9" width="18.1" height="25.1" rx="0" fill="none" stroke="#1a1a1a" stroke-width="1.2"/>
<line x1="559.4" y1="883.3" x2="577.5" y2="883.3" stroke="#1a1a1a" stroke-width="1.8" />
<rect x="486.3" y="891.2" width="7.6" height="9.8" rx="0" fill="#111" stroke="#1a1a1a" stroke-width="0"/>
<rect x="525.3" y="913.0" width="9.0" height="3.3" rx="0" fill="none" stroke="#1a1a1a" stroke-width="1.0"/>
<path d="M519.7 884 L519.7 813.7 A4 4 0 0 1 523.7 809.7 L531 809.7 A4 4 0 0 1 535 813.7 L535 884" fill="#fff" stroke="#1a1a1a" stroke-width="1.6" />
<rect x="520.5" y="879.5" width="13.7" height="4.5" rx="0" fill="#fff" stroke="none" stroke-width="0"/>
<line x1="521.8" y1="813.0" x2="521.8" y2="889.0" stroke="#1a1a1a" stroke-width="0.9" />
<line x1="532.9" y1="813.0" x2="532.9" y2="889.0" stroke="#1a1a1a" stroke-width="0.9" />
<line x1="534.6" y1="812.0" x2="534.6" y2="848.0" stroke="#1a1a1a" stroke-width="2.0" />
<path d="M521.8 889 A9.05 9.05 0 1 0 532.9 889" fill="none" stroke="#1a1a1a" stroke-width="1.3" />
<line x1="521.8" y1="898.9" x2="532.9" y2="898.9" stroke="#1a1a1a" stroke-width="1.0" />
<line x1="519.7" y1="882.3" x2="535.0" y2="882.3" stroke="#1a1a1a" stroke-width="1.2" />
<line x1="446.6" y1="895.8" x2="472.3" y2="895.8" stroke="#666" stroke-width="1.0" />
<line x1="475.0" y1="895.8" x2="505.5" y2="895.8" stroke="#666" stroke-width="1.0" />
<line x1="508.3" y1="895.8" x2="714.0" y2="895.8" stroke="#777" stroke-width="1.0" />
<line x1="530.1" y1="921.0" x2="530.1" y2="943.6" stroke="#3c3c3c" stroke-width="1.05" />
<line x1="494.5" y1="937.4" x2="530.0" y2="937.4" stroke="#3c3c3c" stroke-width="1.05" />
<path d="M494.5 937.4 L505.5 935.4 L505.5 939.4 Z" fill="#1a1a1a"/>
<path d="M530.0 937.4 L519.0 939.4 L519.0 935.4 Z" fill="#1a1a1a"/>
<text transform="matrix(0.15287,0,0,0.15846,504.93,935.60)" font-family="Liberation Serif" font-size="100" fill="#111" stroke="#111" stroke-width="3.5">72</text>
<line x1="559.4" y1="908.0" x2="559.4" y2="980.0" stroke="#3c3c3c" stroke-width="1.05" />
<line x1="578.6" y1="908.0" x2="578.6" y2="1004.4" stroke="#3c3c3c" stroke-width="1.05" />
<line x1="494.5" y1="975.6" x2="559.4" y2="975.6" stroke="#3c3c3c" stroke-width="1.05" />
<path d="M494.5 975.6 L505.5 973.6 L505.5 977.6 Z" fill="#1a1a1a"/>
<path d="M559.4 975.6 L548.4 977.6 L548.4 973.6 Z" fill="#1a1a1a"/>
<text transform="matrix(0.14741,0,0,0.14776,516.17,973.25)" font-family="Liberation Serif" font-size="100" fill="#111" stroke="#111" stroke-width="3.5">132</text>
<line x1="494.5" y1="999.9" x2="578.6" y2="999.9" stroke="#3c3c3c" stroke-width="1.05" />
<path d="M494.5 999.9 L505.5 997.9 L505.5 1001.9 Z" fill="#1a1a1a"/>
<path d="M578.6 999.9 L567.6 1001.9 L567.6 997.9 Z" fill="#1a1a1a"/>
<text transform="matrix(0.14526,0,0,0.13971,525.69,997.12)" font-family="Liberation Serif" font-size="100" fill="#111" stroke="#111" stroke-width="3.5">170</text>
<line x1="428.3" y1="1055.2" x2="440.5" y2="1055.2" stroke="#3c3c3c" stroke-width="1.05" />
<line x1="440.5" y1="1055.2" x2="493.7" y2="1006.5" stroke="#3c3c3c" stroke-width="1.05" />
<path d="M493.7 1006.5 L486.9 1015.4 L484.2 1012.5 Z" fill="#1a1a1a"/>
<text transform="matrix(0.14062,0,0,0.14043,371.90,1061.54)" font-family="Liberation Serif" font-size="100" fill="#111" stroke="#111" stroke-width="1">完成墙面</text>
</svg>
<div class="t" style="left:55px;top:101px;font-size:47px;font-weight:400;-webkit-text-stroke:0.7px #1b3360;color:#1b3360;letter-spacing:4px">产品尺寸</div>
<div class="t" style="left:437px;top:113px;font-size:18px;font-weight:300;color:#4a4a4a;letter-spacing:0.3px">该尺寸信息仅供参考，最终以实物为准</div>
</body></html>
